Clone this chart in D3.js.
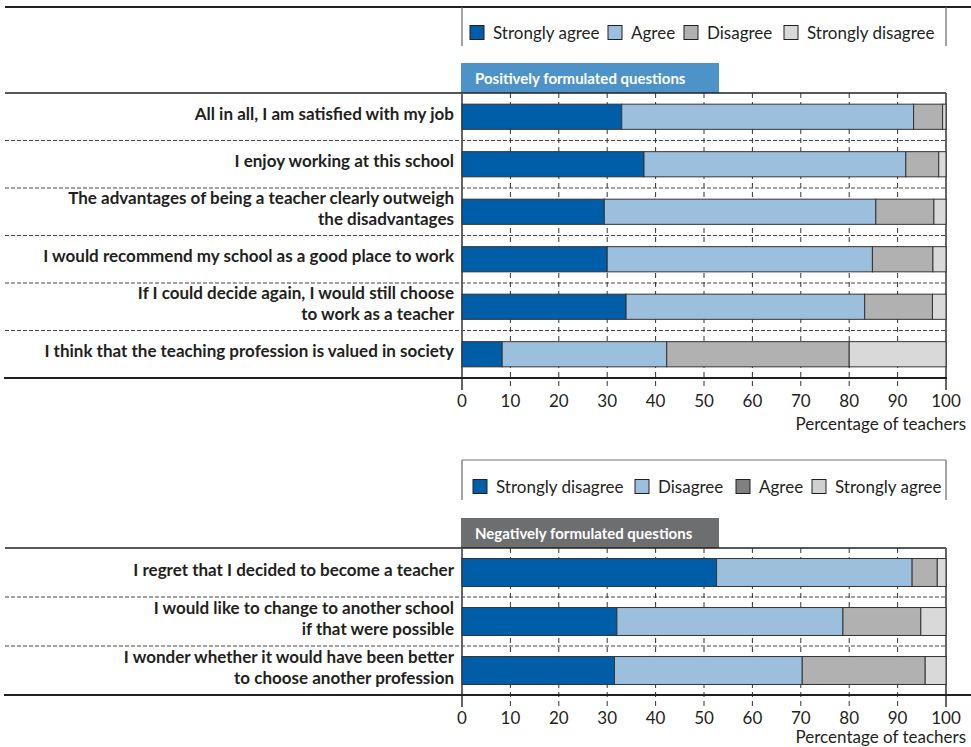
<!DOCTYPE html>
<html>
<head>
<meta charset="utf-8">
<script src="https://cdn.jsdelivr.net/npm/d3@7"></script>
<style>
  body { margin: 0; background: #fff; }
  svg text { font-family: Lato, "Open Sans", sans-serif; fill: #231f20; }
</style>
</head>
<body>
<div id="chart"></div>
<script>
// ---- data ----
var posQuestions = [
  "All in all, I am satisfied with my job",
  "I enjoy working at this school",
  "The advantages of being a teacher clearly outweigh|the disadvantages",
  "I would recommend my school as a good place to work",
  "If I could decide again, I would still choose|to work as a teacher",
  "I think that the teaching profession is valued in society"
];
var posSeries = ["Strongly agree", "Agree", "Disagree", "Strongly disagree"];
var posStronglyAgree    = [33.0, 37.6, 29.4, 30.0, 33.9, 8.3];
var posAgree            = [60.3, 54.1, 56.1, 54.8, 49.3, 34.0];
var posDisagree         = [6.0, 6.8, 12.0, 12.5, 14.0, 37.7];
var posStronglyDisagree = [0.7, 1.5, 2.5, 2.7, 2.8, 20.0];

var negQuestions = [
  "I regret that I decided to become a teacher",
  "I would like to change to another school|if that were possible",
  "I wonder whether it would have been better|to choose another profession"
];
var negSeries = ["Strongly disagree", "Disagree", "Agree", "Strongly agree"];
var negStronglyDisagree = [52.6, 32.0, 31.5];
var negDisagree         = [40.4, 46.7, 38.8];
var negAgree            = [5.2, 16.1, 25.4];
var negStronglyAgree    = [1.8, 5.2, 4.3];

var ticks = [0, 10, 20, 30, 40, 50, 60, 70, 80, 90, 100];

var barColors = ["#005da8", "#9bbfdc", "#b1b1b2", "#d9d9da"];

var svg = d3.select("#chart").append("svg")
  .attr("width", 971).attr("height", 747);

var x = d3.scaleLinear().domain([0, 100]).range([462, 946]);

// top rule of the figure
svg.append("line").attr("x1", 5).attr("x2", 971).attr("y1", 7).attr("y2", 7)
  .attr("stroke", "#231f20").attr("stroke-width", 2.2);

function drawLegend(names, swatchColors, swatchX, cy, boxTop, boxBottom, topLine) {
  var g = svg.append("g");
  g.append("line").attr("x1", x(0)).attr("x2", x(0)).attr("y1", boxTop).attr("y2", boxBottom)
    .attr("stroke", "#666").attr("stroke-width", 1.2);
  g.append("line").attr("x1", x(100)).attr("x2", x(100)).attr("y1", boxTop).attr("y2", boxBottom)
    .attr("stroke", "#666").attr("stroke-width", 1.2);
  if (topLine) {
    g.append("line").attr("x1", x(0)).attr("x2", x(100)).attr("y1", boxTop).attr("y2", boxTop)
      .attr("stroke", "#777").attr("stroke-width", 1.2);
  }
  names.forEach(function(n, i) {
    g.append("rect").attr("x", swatchX[i]).attr("y", cy - 7.5).attr("width", 14).attr("height", 14)
      .attr("fill", swatchColors[i]).attr("stroke", "#231f20").attr("stroke-width", 1);
    g.append("text").attr("x", swatchX[i] + 23).attr("y", cy + 6)
      .attr("font-size", 17).text(n);
  });
}

function drawPanel(questions, seriesData, header, headerColor, top, bottom, pad, opts) {
  var g = svg.append("g");
  var y = d3.scaleBand().domain(d3.range(questions.length)).range([top, bottom])
    .paddingInner(pad).paddingOuter(pad / 2);
  var step = y.step();

  // header label
  g.append("rect").attr("x", 461).attr("y", top - 30).attr("width", 258).attr("height", 30)
    .attr("fill", headerColor);
  g.append("text").attr("x", 475).attr("y", top - 9.5).attr("font-size", 15)
    .attr("font-weight", "bold").style("fill", "#fff").text(header);

  // top rule of plot area
  g.append("line").attr("x1", 5).attr("x2", x(100)).attr("y1", top).attr("y2", top)
    .attr("stroke", "#231f20").attr("stroke-width", 1.5);

  // row separators
  d3.range(1, questions.length).forEach(function(i) {
    g.append("line").attr("x1", 5).attr("x2", x(100))
      .attr("y1", top + i * step).attr("y2", top + i * step)
      .attr("stroke", "#444").attr("stroke-width", 1).attr("stroke-dasharray", "4,2");
  });

  // vertical grid / ticks
  g.selectAll(".grid").data(ticks).enter().append("line")
    .attr("x1", function(d) { return x(d); }).attr("x2", function(d) { return x(d); })
    .attr("y1", top).attr("y2", bottom + 12)
    .attr("stroke", function(d) { return (d === 0 || d === 100) ? "#555" : "#333"; })
    .attr("stroke-width", function(d) { return (d === 0 || d === 100) ? 1.8 : 1; })
    .attr("stroke-dasharray", function(d) { return (d === 0 || d === 100) ? null : "5,4"; });

  // stacked bars
  var rows = questions.map(function(q, i) {
    var start = 0;
    return seriesData.map(function(s, k) {
      var seg = { row: i, k: k, x0: start, x1: start + s[i] };
      start += s[i];
      return seg;
    });
  });
  g.selectAll(".seg").data(d3.merge(rows)).enter().append("rect")
    .attr("x", function(d) { return x(d.x0); })
    .attr("width", function(d) { return x(d.x1) - x(d.x0); })
    .attr("y", function(d) { return y(d.row); })
    .attr("height", y.bandwidth())
    .attr("fill", function(d) { return barColors[d.k]; })
    .attr("stroke", "#333").attr("stroke-width", 1);

  // question labels
  questions.forEach(function(q, i) {
    var lines = q.split("|");
    var cy = y(i) + y.bandwidth() / 2;
    var lh = 21;
    lines.forEach(function(l, j) {
      g.append("text").attr("x", 454).attr("text-anchor", "end")
        .attr("y", cy + (j - (lines.length - 1) / 2) * lh + 3)
        .attr("font-size", 17).attr("font-weight", "bold").text(l);
    });
  });

  // axis line
  g.append("line").attr("x1", 4).attr("x2", opts.axisEnd)
    .attr("y1", bottom).attr("y2", bottom)
    .attr("stroke", "#231f20").attr("stroke-width", 2.2);

  // tick labels
  g.selectAll(".tl").data(ticks).enter().append("text")
    .attr("x", function(d) { return x(d); }).attr("y", bottom + 29)
    .attr("text-anchor", "middle").attr("font-size", 17).text(function(d) { return d; });

  g.append("text").attr("x", 966).attr("y", bottom + opts.titleOffset).attr("text-anchor", "end")
    .attr("font-size", 17).text("Percentage of teachers");
}

drawLegend(posSeries, barColors, [470, 608, 684, 784], 33, 7, 46, false);
drawPanel(posQuestions, [posStronglyAgree, posAgree, posDisagree, posStronglyDisagree],
  "Positively formulated questions", "#4d93c8", 93, 378, 0.47, { axisEnd: 947, titleOffset: 52 });

drawLegend(negSeries, ["#005da8", "#9bbfdc", "#808080", "#d0d0d1"], [473, 635, 736, 812], 487, 460, 500, true);
drawPanel(negQuestions, [negStronglyDisagree, negDisagree, negAgree, negStronglyAgree],
  "Negatively formulated questions", "#6d6e70", 548, 695, 0.43, { axisEnd: 971, titleOffset: 48 });
</script>
</body>
</html>
